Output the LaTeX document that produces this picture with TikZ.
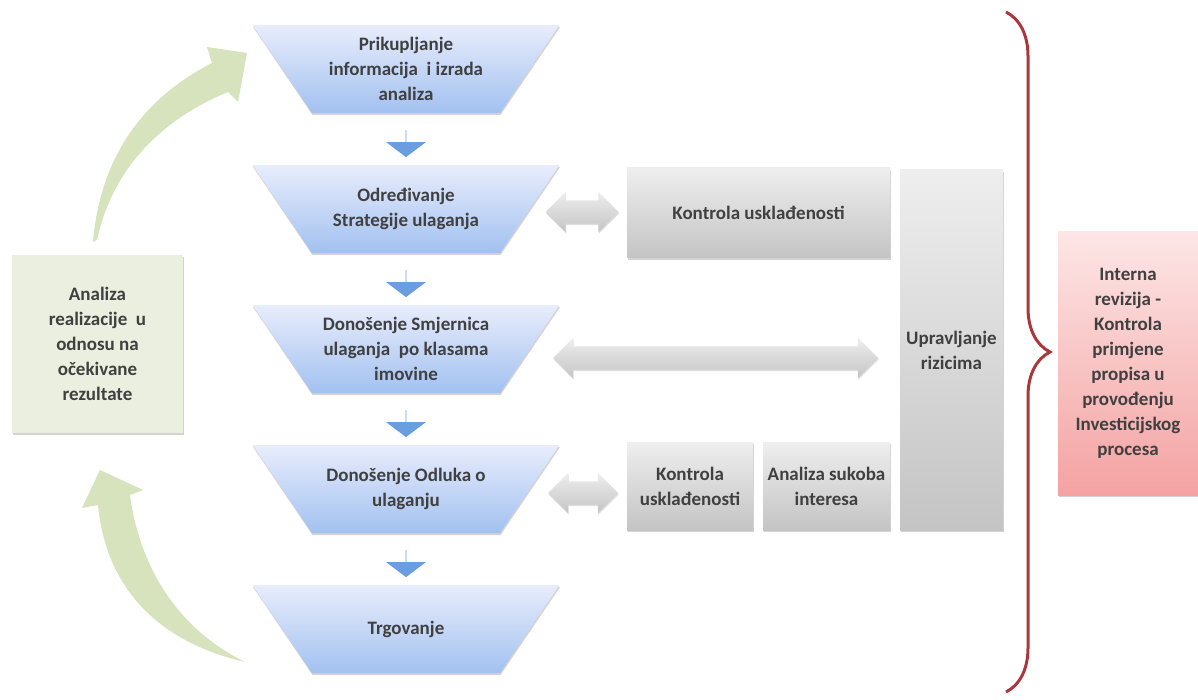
\documentclass[tikz,border=0pt]{standalone}
\usepackage{fontspec}
\setmainfont{Carlito}
\usepackage{tikz}
\usetikzlibrary{arrows.meta,shapes,shapes.arrows,positioning,shadows,backgrounds,decorations.pathreplacing}

\definecolor{txtgray}{RGB}{64,64,64}
\definecolor{stagetop}{RGB}{232,237,252}
\definecolor{stagebot}{RGB}{162,193,240}
\definecolor{flowblue}{RGB}{106,158,224}
\definecolor{boxtop}{RGB}{238,238,238}
\definecolor{boxbot}{RGB}{196,196,196}
\definecolor{loopgreen}{RGB}{214,227,188}
\definecolor{notegreen}{RGB}{235,239,224}
\definecolor{audittop}{RGB}{253,230,230}
\definecolor{auditbot}{RGB}{244,162,162}
\definecolor{bracered}{RGB}{170,55,60}

\begin{document}
\begin{tikzpicture}[
    x=1pt, y=-1pt,
    node distance=140pt,
    every node/.style={
        font=\fontsize{19}{25}\selectfont\bfseries,
        text=txtgray,
        align=center
    },
    stage/.style={
        rectangle,
        minimum width=307pt,
        minimum height=88pt,
        inner sep=2pt,
        outer sep=0pt,
        append after command={
           \pgfextra{
            \begin{pgfonlayer}{background}
            \shade[top color=stagetop, bottom color=stagebot,
                drop shadow={shadow xshift=0.5pt, shadow yshift=-2pt, opacity=0.35}]
                (\tikzlastnode.north west) -- (\tikzlastnode.north east)
                -- ([xshift=-59.5pt]\tikzlastnode.south east)
                -- ([xshift=59.5pt]\tikzlastnode.south west) -- cycle;
            \end{pgfonlayer}
        }
        }
    },
    check/.style={
        rectangle,
        inner sep=2pt,
        top color=boxtop,
        bottom color=boxbot,
        drop shadow={shadow xshift=1pt, shadow yshift=-2pt, opacity=0.35}
    },
    flow/.style={
        single arrow,
        shape border rotate=270,
        minimum width=40pt,
        minimum height=27pt,
        single arrow head extend=11.5pt,
        single arrow tip angle=106,
        inner xsep=0pt,
        inner ysep=8.5pt,
        fill=flowblue
    },
    link/.style={
        double arrow,
        minimum width=40pt,
        double arrow head extend=8.5pt,
        inner xsep=0pt,
        inner ysep=11.5pt,
        top color=boxtop,
        bottom color=boxbot,
        drop shadow={shadow xshift=0.5pt, shadow yshift=-1.5pt, opacity=0.25}
    },
    note/.style={
        rectangle,
        minimum width=171pt,
        minimum height=178pt,
        fill=notegreen,
        drop shadow={shadow xshift=1pt, shadow yshift=-2pt, opacity=0.35}
    },
    audit/.style={
        rectangle,
        minimum width=140pt,
        minimum height=263pt,
        top color=audittop,
        bottom color=auditbot,
        drop shadow={shadow xshift=1pt, shadow yshift=-2pt, opacity=0.35}
    },
    loop/.style={fill=loopgreen}
]
\useasboundingbox (0,0) rectangle (1198,700);

% STAGES
\node[stage] (P1) at (406,69) {Prikupljanje\\informacija\ \ i izrada\\analiza};
\node[stage, below of=P1] (P2) {Određivanje\\Strategije ulaganja};
\node[stage, below of=P2] (P3) {Donošenje Smjernica\\ulaganja\ \ po klasama\\imovine};
\node[stage, below of=P3] (P4) {Donošenje Odluka o\\ulaganju};
\node[stage, below of=P4] (P5) {Trgovanje};

% FLOW BETWEEN STAGES
\node[flow, below of=P1, node distance=74.5pt] (d1) {};
\node[flow, below of=P2, node distance=74.5pt] (d2) {};
\node[flow, below of=P3, node distance=74.5pt] (d3) {};
\node[flow, below of=P4, node distance=74.5pt] (d4) {};

% CONTROLS
\node[check, minimum width=263pt, minimum height=90pt] (K1) at (758.5,213) {Kontrola usklađenosti};
\node[check, minimum width=103pt, minimum height=360pt] (R) at (951.5,350) {Upravljanje\\rizicima};
\node[check, minimum width=126pt, minimum height=88pt] (K2) at (690,486) {Kontrola\\usklađenosti};
\node[check, minimum width=127pt, minimum height=88pt] (S) at (826.5,486) {Analiza sukoba\\interesa};

% LINKS
\node[link, minimum height=73pt] (h1) at (582,212) {};
\node[link, minimum height=325pt] (h2) at (715.5,358) {};
\node[link, minimum height=70pt] (h3) at (583,493) {};

% ANALYSIS AND AUDIT
\node[note] (A) at (97.5,344) {Analiza\\realizacije\ \ u\\odnosu na\\očekivane\\rezultate};
\node[audit] (I) at (1128,363.5) {Interna\\revizija -\\Kontrola\\primjene\\propisa u\\provođenju\\Investicijskog\\procesa};

% --- LOOP ARROWS ---
% A to P1
\fill[loop] (93,242) .. controls (100,160) and (140,100) .. (212,63)
    -- (207,47) -- (247,53) -- (238,102) -- (228,92)
    .. controls (160,120) and (112,170) .. (97,240) -- cycle;

% P5 to A
\fill[loop] (245,662) .. controls (150,640) and (105,580) .. (98,505)
    -- (82,508) -- (100,470) -- (143,490) -- (130,495)
    .. controls (140,570) and (180,630) .. (245,662) -- cycle;

% BRACE
\draw[bracered, line width=3pt, decorate, decoration={brace, amplitude=44pt}] (1006,12) -- (1006,692);

\end{tikzpicture}
\end{document}
